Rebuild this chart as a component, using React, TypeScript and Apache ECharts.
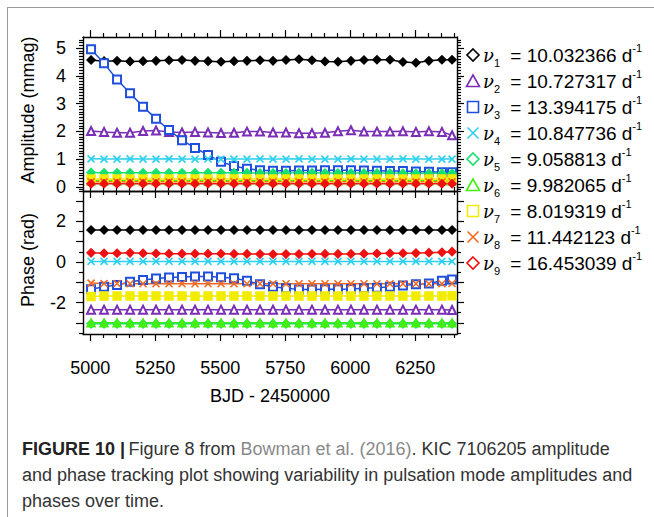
import React, { useEffect, useRef } from 'react';
import * as echarts from 'echarts';

// ---------- data ----------
const bjd = [5003, 5053, 5103, 5153, 5203, 5253, 5303, 5353, 5403, 5453, 5503, 5553, 5603, 5653, 5703, 5753, 5803, 5853, 5903, 5953, 6003, 6053, 6103, 6153, 6203, 6253, 6303, 6353, 6392];

const freqs = ['10.032366', '10.727317', '13.394175', '10.847736', '9.058813', '9.982065', '8.019319', '11.442123', '16.453039'];

const amp1 = [4.57, 4.53, 4.54, 4.52, 4.53, 4.54, 4.56, 4.57, 4.54, 4.53, 4.51, 4.53, 4.54, 4.56, 4.54, 4.57, 4.60, 4.56, 4.52, 4.51, 4.54, 4.57, 4.58, 4.58, 4.50, 4.47, 4.54, 4.58, 4.58];
const amp2 = [2.01, 1.98, 1.95, 1.95, 2.01, 2.03, 1.98, 1.96, 1.98, 1.96, 1.94, 1.95, 1.99, 1.99, 1.96, 1.96, 1.93, 1.93, 1.95, 2.00, 2.04, 1.99, 1.99, 1.99, 2.00, 1.98, 2.00, 1.98, 1.86];
const amp3 = [4.96, 4.45, 3.87, 3.37, 2.89, 2.45, 2.05, 1.68, 1.40, 1.15, 0.90, 0.75, 0.65, 0.60, 0.58, 0.58, 0.59, 0.59, 0.60, 0.60, 0.60, 0.59, 0.58, 0.57, 0.57, 0.55, 0.54, 0.53, 0.53];
const amp4 = [1.01, 1.00, 1.00, 1.01, 1.00, 1.00, 1.01, 1.00, 1.00, 1.01, 1.00, 1.00, 1.00, 1.01, 1.00, 1.00, 1.01, 1.00, 1.00, 1.00, 1.01, 1.00, 1.00, 1.00, 1.01, 1.00, 1.00, 1.00, 1.00];
const amp5 = [0.52, 0.51, 0.51, 0.51, 0.51, 0.51, 0.51, 0.51, 0.51, 0.51, 0.51, 0.51, 0.51, 0.50, 0.50, 0.50, 0.51, 0.51, 0.50, 0.50, 0.50, 0.50, 0.50, 0.50, 0.49, 0.49, 0.49, 0.49, 0.49];
const amp6 = [0.22, 0.22, 0.22, 0.22, 0.22, 0.22, 0.22, 0.22, 0.22, 0.22, 0.22, 0.22, 0.22, 0.22, 0.22, 0.22, 0.22, 0.22, 0.22, 0.22, 0.22, 0.22, 0.22, 0.22, 0.22, 0.22, 0.22, 0.22, 0.22];
const amp7 = [0.28, 0.28, 0.28, 0.28, 0.28, 0.28, 0.28, 0.28, 0.28, 0.28, 0.28, 0.28, 0.28, 0.28, 0.28, 0.28, 0.28, 0.28, 0.28, 0.28, 0.28, 0.28, 0.28, 0.28, 0.28, 0.28, 0.28, 0.28, 0.28];
const amp8 = [0.18, 0.18, 0.18, 0.18, 0.18, 0.18, 0.18, 0.18, 0.18, 0.18, 0.18, 0.18, 0.18, 0.18, 0.18, 0.18, 0.18, 0.18, 0.18, 0.18, 0.18, 0.18, 0.18, 0.18, 0.18, 0.18, 0.18, 0.18, 0.18];
const amp9 = [0.11, 0.11, 0.11, 0.11, 0.11, 0.11, 0.11, 0.11, 0.11, 0.11, 0.11, 0.11, 0.11, 0.11, 0.11, 0.11, 0.11, 0.11, 0.11, 0.11, 0.11, 0.11, 0.11, 0.11, 0.11, 0.11, 0.11, 0.11, 0.11];

const ph1 = [1.58, 1.58, 1.58, 1.58, 1.58, 1.58, 1.58, 1.58, 1.58, 1.58, 1.58, 1.58, 1.58, 1.58, 1.58, 1.58, 1.58, 1.58, 1.58, 1.58, 1.58, 1.58, 1.58, 1.58, 1.58, 1.58, 1.58, 1.58, 1.58];
const ph2 = [-2.35, -2.35, -2.35, -2.35, -2.35, -2.35, -2.35, -2.35, -2.35, -2.35, -2.35, -2.35, -2.35, -2.35, -2.35, -2.35, -2.35, -2.35, -2.35, -2.35, -2.35, -2.35, -2.35, -2.35, -2.35, -2.35, -2.35, -2.35, -2.37];
const ph3 = [-1.34, -1.22, -1.14, -0.97, -0.89, -0.81, -0.76, -0.74, -0.72, -0.72, -0.75, -0.80, -0.92, -1.10, -1.22, -1.30, -1.35, -1.35, -1.34, -1.34, -1.33, -1.30, -1.27, -1.22, -1.16, -1.10, -1.06, -0.93, -0.86];
const ph4 = [0.03, 0.03, 0.03, 0.03, 0.03, 0.03, 0.03, 0.03, 0.03, 0.03, 0.03, 0.03, 0.03, 0.03, 0.03, 0.03, 0.03, 0.03, 0.03, 0.03, 0.03, 0.03, 0.03, 0.03, 0.03, 0.03, 0.03, 0.03, 0.03];
const ph5 = [-3.05, -3.05, -3.05, -3.05, -3.05, -3.05, -3.05, -3.05, -3.05, -3.05, -3.05, -3.05, -3.05, -3.05, -3.05, -3.05, -3.05, -3.05, -3.05, -3.05, -3.05, -3.05, -3.05, -3.05, -3.05, -3.05, -3.05, -3.05, -3.05];
const ph6 = [-3.00, -3.00, -3.00, -3.00, -3.00, -3.00, -3.00, -3.00, -3.00, -3.00, -3.00, -3.00, -3.00, -3.00, -3.00, -3.00, -3.00, -3.00, -3.00, -3.00, -3.00, -3.00, -3.00, -3.00, -3.00, -3.00, -3.00, -3.00, -3.00];
const ph7 = [-1.70, -1.68, -1.68, -1.68, -1.68, -1.68, -1.68, -1.68, -1.69, -1.68, -1.68, -1.68, -1.68, -1.68, -1.68, -1.68, -1.68, -1.68, -1.68, -1.68, -1.68, -1.68, -1.68, -1.68, -1.68, -1.68, -1.68, -1.68, -1.67];
const ph8 = [-1.04, -1.06, -1.06, -1.07, -1.07, -1.07, -1.07, -1.07, -1.07, -1.07, -1.07, -1.07, -1.07, -1.07, -1.07, -1.07, -1.07, -1.07, -1.07, -1.07, -1.07, -1.07, -1.07, -1.07, -1.07, -1.07, -1.07, -1.07, -1.06];
const ph9 = [0.45, 0.43, 0.43, 0.45, 0.43, 0.42, 0.41, 0.41, 0.41, 0.41, 0.41, 0.40, 0.40, 0.39, 0.38, 0.39, 0.39, 0.40, 0.40, 0.40, 0.40, 0.41, 0.42, 0.43, 0.43, 0.44, 0.46, 0.48, 0.51];

const ampTickLabels = [0, 1, 2, 3, 4, 5];
const phaseTickLabels = [-2, 0, 2];
const bjdTickLabels = [5000, 5250, 5500, 5750, 6000, 6250];

// ---------- styling ----------
const colors = ['#000000', '#7a2db5', '#1f4fdc', '#2fd0ee', '#18e070', '#44ee11', '#f2ec00', '#f26a22', '#ee1111'];
const X_PATH = 'path://M0,0L10,10M10,0L0,10';
const symbols = ['diamond', 'emptyTriangle', 'emptyRect', X_PATH, 'diamond', 'triangle', 'rect', X_PATH, 'diamond'];
const FONT = '"Liberation Sans", Arial, Helvetica, sans-serif';

const X_MIN = 4972, X_MAX = 6411;
const AMP_MIN = -0.15, AMP_MAX = 5.4;
const PH_MIN = -3.55, PH_MAX = 3.5;

const xMinor: number[] = [];
for (let v = 5050; v <= X_MAX; v += 50) if (v % 250 !== 0) xMinor.push(v);
const xMajor = [5000, 5250, 5500, 5750, 6000, 6250];
const ampMajor = [0, 1, 2, 3, 4, 5];
const ampMinor: number[] = [];
for (let k = -1; k <= 53; k++) if (k % 10 !== 0) ampMinor.push(k / 10);
const phMajor = [-3, -2, -1, 0, 1, 2, 3];
const phMinor = [-3.5, -2.5, -1.5, -0.5, 0.5, 1.5, 2.5, 3.5];

const lineCol = '#000';

function mkX(grid: number, pos: string, vals: number[], len: number, showLine: boolean, labels?: number[]) {
  return {
    type: 'value', gridIndex: grid, position: pos, min: X_MIN, max: X_MAX,
    splitLine: { show: false },
    axisLine: { show: showLine, onZero: false, lineStyle: { color: lineCol, width: 1.4 } },
    axisTick: { show: true, inside: false, length: len, customValues: vals, lineStyle: { color: lineCol, width: 1.2 } },
    axisLabel: labels
      ? { show: true, customValues: labels, margin: 25, fontSize: 18, color: '#000', fontFamily: FONT, formatter: (v: number) => String(v) }
      : { show: false },
  };
}
function mkY(grid: number, pos: string, min: number, max: number, vals: number[], len: number, showLine: boolean, labels?: number[]) {
  return {
    type: 'value', gridIndex: grid, position: pos, min, max,
    splitLine: { show: false },
    axisLine: { show: showLine, onZero: false, lineStyle: { color: lineCol, width: 1.4 } },
    axisTick: { show: true, inside: false, length: len, customValues: vals, lineStyle: { color: lineCol, width: 1.2 } },
    axisLabel: labels
      ? { show: true, customValues: labels, margin: 17, fontSize: 18, color: '#000', fontFamily: FONT, formatter: (v: number) => String(v) }
      : { show: false },
  };
}

const ampSeries = [amp1, amp2, amp3, amp4, amp5, amp6, amp7, amp8, amp9];
const phSeries = [ph1, ph2, ph3, ph4, ph5, ph6, ph7, ph8, ph9];

function mkSeries(arr: number[], i: number, xi: number, yi: number) {
  const c = colors[i];
  const sym = symbols[i];
  const isX = sym === X_PATH;
  return {
    type: 'line', xAxisIndex: xi, yAxisIndex: yi,
    data: bjd.map((x, k) => [x, arr[k]]),
    symbol: sym, symbolSize: isX ? 7 : 8, showAllSymbol: true,
    lineStyle: { color: c, width: 1.5 },
    itemStyle: isX
      ? { color: 'rgba(0,0,0,0)', borderColor: c, borderWidth: 1.6 }
      : { color: c, borderColor: c, borderWidth: 1.5 },
    emphasis: { disabled: true },
    silent: true,
  };
}

function legendGraphics() {
  const els: any[] = [];
  for (let i = 0; i < 9; i++) {
    const cy = 55 + 26 * i;
    const cx = 473;
    const c = colors[i];
    const st = { fill: 'none', stroke: c, lineWidth: 1.6 };
    const s = symbols[i];
    if (i === 0 || i === 4 || i === 8) {
      els.push({ type: 'polygon', shape: { points: [[cx, cy - 6], [cx + 6, cy], [cx, cy + 6], [cx - 6, cy]] }, style: st });
    } else if (i === 1 || i === 5) {
      els.push({ type: 'polygon', shape: { points: [[cx, cy - 6], [cx + 6.5, cy + 5.5], [cx - 6.5, cy + 5.5]] }, style: st });
    } else if (i === 2 || i === 6) {
      els.push({ type: 'rect', shape: { x: cx - 5.5, y: cy - 5.5, width: 11, height: 11 }, style: st });
    } else if (s === X_PATH) {
      els.push({ type: 'line', shape: { x1: cx - 5.5, y1: cy - 5.5, x2: cx + 5.5, y2: cy + 5.5 }, style: { stroke: c, lineWidth: 1.6 } });
      els.push({ type: 'line', shape: { x1: cx + 5.5, y1: cy - 5.5, x2: cx - 5.5, y2: cy + 5.5 }, style: { stroke: c, lineWidth: 1.6 } });
    }
    els.push({
      type: 'text', x: 483, y: cy,
      style: {
        text: `{nu|ν}{sub|${i + 1}}{eq| = ${freqs[i]} d}{sup|-1}`,
        verticalAlign: 'middle', align: 'left',
        rich: {
          nu: { fontFamily: '"DejaVu Serif", serif', fontStyle: 'italic', fontSize: 18, lineHeight: 26, verticalAlign: 'middle', fill: '#000' },
          sub: { fontFamily: FONT, fontSize: 11, lineHeight: 11, verticalAlign: 'bottom', fill: '#000' },
          eq: { fontFamily: FONT, fontSize: 19, lineHeight: 26, verticalAlign: 'middle', fill: '#000', padding: [0, 0, 0, 5] },
          sup: { fontFamily: FONT, fontSize: 11, lineHeight: 11, verticalAlign: 'top', fill: '#000' },
        },
      },
    });
  }
  return els;
}

export default function App() {
  const ref = useRef<HTMLDivElement>(null);
  useEffect(() => {
    if (!ref.current) return;
    const chart = echarts.init(ref.current, undefined, { renderer: 'svg' });
    const series: any[] = [];
    ampSeries.forEach((a, i) => series.push(mkSeries(a, i, 0, 0)));
    phSeries.forEach((a, i) => series.push(mkSeries(a, i, 4, 4)));
    chart.setOption({
      animation: false,
      backgroundColor: 'transparent',
      grid: [
        { left: 83, top: 37, width: 374, height: 154 },
        { left: 83, top: 191, width: 374, height: 143 },
      ],
      xAxis: [
        mkX(0, 'bottom', xMajor, 7, true),
        mkX(0, 'bottom', xMinor, 4, false),
        mkX(0, 'top', xMajor, 7, true),
        mkX(0, 'top', xMinor, 4, false),
        mkX(1, 'bottom', xMajor, 7, true, bjdTickLabels),
        mkX(1, 'bottom', xMinor, 4, false),
        mkX(1, 'top', xMajor, 7, true),
        mkX(1, 'top', xMinor, 4, false),
      ],
      yAxis: [
        mkY(0, 'left', AMP_MIN, AMP_MAX, ampMajor, 7, true, ampTickLabels),
        mkY(0, 'left', AMP_MIN, AMP_MAX, ampMinor, 4, false),
        mkY(0, 'right', AMP_MIN, AMP_MAX, ampMajor, 7, true),
        mkY(0, 'right', AMP_MIN, AMP_MAX, ampMinor, 4, false),
        mkY(1, 'left', PH_MIN, PH_MAX, phMajor, 7, true, phaseTickLabels),
        mkY(1, 'left', PH_MIN, PH_MAX, phMinor, 4, false),
        mkY(1, 'right', PH_MIN, PH_MAX, phMajor, 7, true),
        mkY(1, 'right', PH_MIN, PH_MAX, phMinor, 4, false),
      ],
      series,
      graphic: [
        { type: 'text', x: 28, y: 110, rotation: Math.PI / 2, style: { text: 'Amplitude (mmag)', fontFamily: FONT, fontSize: 18, fill: '#000', align: 'center', verticalAlign: 'middle' } },
        { type: 'text', x: 28, y: 260, rotation: Math.PI / 2, style: { text: 'Phase (rad)', fontFamily: FONT, fontSize: 18, fill: '#000', align: 'center', verticalAlign: 'middle' } },
        { type: 'text', x: 270, y: 396, style: { text: 'BJD - 2450000', fontFamily: FONT, fontSize: 18, fill: '#000', align: 'center', verticalAlign: 'middle' } },
        ...legendGraphics(),
        {
          type: 'text', x: 22, y: 449,
          style: {
            text: '{b|FIGURE 10 |} {r|Figure 8 from }{g|Bowman et al. (2016)}{r|. KIC 7106205 amplitude}',
            verticalAlign: 'middle',
            rich: {
              b: { fontFamily: FONT, fontSize: 18, fontWeight: 'bold', fill: '#222' },
              r: { fontFamily: FONT, fontSize: 18, fill: '#333' },
              g: { fontFamily: FONT, fontSize: 18, fill: '#8a8a8a' },
            },
          },
        },
        { type: 'text', x: 22, y: 475, style: { text: 'and phase tracking plot showing variability in pulsation mode amplitudes and', fontFamily: FONT, fontSize: 18, fill: '#333', verticalAlign: 'middle' } },
        { type: 'text', x: 22, y: 501, style: { text: 'phases over time.', fontFamily: FONT, fontSize: 18, fill: '#333', verticalAlign: 'middle' } },
      ],
    });
    return () => chart.dispose();
  }, []);
  return (
    <div style={{ position: 'fixed', left: 0, top: 0, width: 654, height: 517, background: '#fff', overflow: 'hidden' }}>
      <div style={{ position: 'absolute', left: 7, top: 7, width: 660, height: 520, borderLeft: '1px solid #9a9a9a', borderTop: '1px solid #9a9a9a' }} />
      <div ref={ref} style={{ position: 'absolute', left: 0, top: 0, width: 654, height: 517 }} />
    </div>
  );
}
